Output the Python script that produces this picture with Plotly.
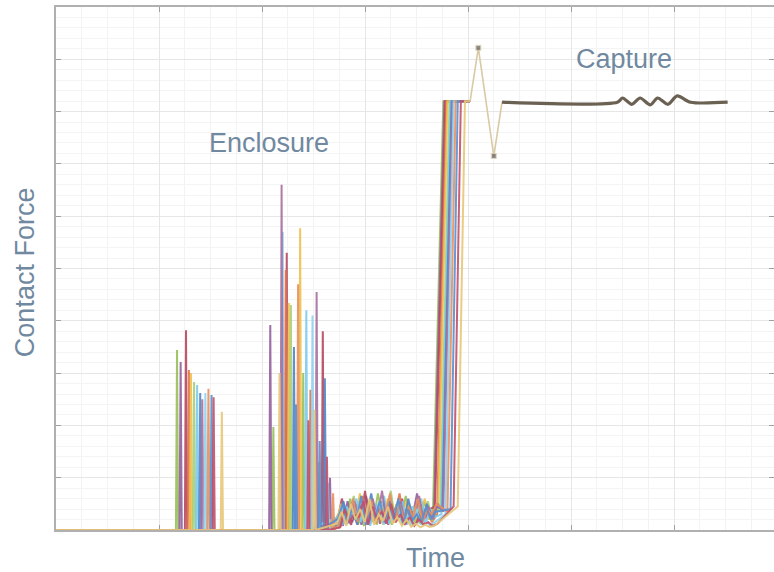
import plotly.graph_objects as go

# ---------------- data ----------------
SERIES_COLORS = ["#97c05a", "#94609e", "#b8475e", "#e0744a", "#f0c050", "#a8cf78", "#7ccbed",
                 "#4f86c6", "#a8709f", "#8fd3f0", "#e89060", "#5a8fd0", "#c0506a", "#e8c878"]

# first contact burst (time, force)
G1_X = [1.175, 1.21, 1.262, 1.29, 1.31, 1.34, 1.37, 1.40, 1.42, 1.45, 1.48, 1.51, 1.53, 1.61]
G1_Y = [3.44, 3.21, 3.82, 3.06, 3.00, 2.83, 2.77, 2.62, 2.50, 2.62, 2.70, 2.58, 2.54, 2.26]

# second contact burst, two impacts per run
G2A_X = [2.11, 2.08, 2.24, 2.23, 2.26, 2.28, 2.20, 2.31, 2.19, 2.49, 2.35, 2.33, 2.45, 2.17]
G2A_Y = [1.97, 3.92, 5.30, 4.97, 4.34, 4.30, 5.70, 3.50, 6.60, 4.10, 4.70, 2.40, 2.10, 3.00]
G2B_X = [2.40, 2.66, 2.59, 2.47, 2.37, 2.55, 2.43, 2.61, 2.53, 2.64, 2.69, 2.56, 2.63, 2.51]
G2B_Y = [3.00, 1.00, 3.80, 2.68, 5.77, 1.30, 4.20, 2.90, 4.55, 0.90, 0.70, 1.70, 1.40, 2.30]

# low-force sliding phase
NOISE_T = [2.72, 2.765, 2.81, 2.855, 2.90, 2.945, 2.99, 3.035, 3.08, 3.125, 3.17,
           3.215, 3.26, 3.305, 3.35, 3.395, 3.44, 3.485, 3.53, 3.575, 3.62, 3.665]
NOISE_SHIFT = [0.0, 0.02, 0.01, 0.03, 0.005, 0.035, 0.015, 0.025, 0.04, 0.012, 0.028, 0.018, 0.038, 0.008]
NOISE = [
    [0.10, 0.45, 0.12, 0.60, 0.20, 0.35, 0.08, 0.55, 0.15, 0.70, 0.25, 0.40, 0.10, 0.50, 0.18, 0.65, 0.22, 0.45, 0.12, 0.55, 0.20, 0.40],
    [0.30, 0.08, 0.55, 0.15, 0.40, 0.10, 0.65, 0.20, 0.45, 0.12, 0.35, 0.60, 0.15, 0.40, 0.10, 0.50, 0.25, 0.70, 0.15, 0.35, 0.20, 0.45],
    [0.15, 0.60, 0.25, 0.10, 0.50, 0.18, 0.75, 0.12, 0.40, 0.20, 0.55, 0.10, 0.45, 0.22, 0.60, 0.15, 0.35, 0.12, 0.50, 0.25, 0.40, 0.30],
    [0.05, 0.35, 0.15, 0.50, 0.10, 0.65, 0.20, 0.30, 0.12, 0.55, 0.18, 0.45, 0.25, 0.70, 0.15, 0.40, 0.10, 0.55, 0.20, 0.35, 0.15, 0.45],
    [0.20, 0.50, 0.10, 0.40, 0.25, 0.70, 0.15, 0.45, 0.20, 0.35, 0.10, 0.60, 0.18, 0.40, 0.25, 0.55, 0.12, 0.45, 0.30, 0.60, 0.20, 0.35],
    [0.08, 0.40, 0.20, 0.65, 0.12, 0.30, 0.22, 0.55, 0.10, 0.45, 0.28, 0.75, 0.15, 0.35, 0.20, 0.50, 0.10, 0.40, 0.25, 0.55, 0.18, 0.40],
    [0.25, 0.10, 0.45, 0.20, 0.60, 0.15, 0.40, 0.08, 0.50, 0.25, 0.65, 0.12, 0.35, 0.20, 0.55, 0.10, 0.45, 0.30, 0.60, 0.15, 0.40, 0.25],
    [0.12, 0.55, 0.18, 0.35, 0.10, 0.50, 0.25, 0.70, 0.15, 0.40, 0.12, 0.55, 0.28, 0.45, 0.10, 0.60, 0.20, 0.35, 0.15, 0.50, 0.25, 0.45],
    [0.06, 0.30, 0.15, 0.55, 0.25, 0.45, 0.10, 0.60, 0.20, 0.75, 0.15, 0.40, 0.22, 0.55, 0.12, 0.35, 0.25, 0.65, 0.10, 0.45, 0.20, 0.50],
    [0.18, 0.45, 0.10, 0.35, 0.22, 0.60, 0.12, 0.40, 0.25, 0.55, 0.10, 0.35, 0.18, 0.50, 0.12, 0.30, 0.08, 0.40, 0.10, 0.20, 0.08, 0.15],
    [0.10, 0.35, 0.20, 0.60, 0.15, 0.45, 0.25, 0.55, 0.12, 0.40, 0.30, 0.70, 0.15, 0.50, 0.20, 0.45, 0.25, 0.60, 0.15, 0.40, 0.30, 0.50],
    [0.22, 0.50, 0.12, 0.40, 0.20, 0.65, 0.10, 0.35, 0.25, 0.55, 0.15, 0.45, 0.20, 0.60, 0.12, 0.40, 0.18, 0.30, 0.15, 0.45, 0.20, 0.35],
    [0.05, 0.40, 0.15, 0.30, 0.25, 0.55, 0.10, 0.45, 0.20, 0.35, 0.12, 0.50, 0.15, 0.30, 0.10, 0.25, 0.08, 0.20, 0.10, 0.15, 0.08, 0.12],
    [0.12, 0.35, 0.08, 0.50, 0.20, 0.40, 0.15, 0.60, 0.10, 0.30, 0.18, 0.45, 0.12, 0.25, 0.08, 0.20, 0.06, 0.12, 0.05, 0.10, 0.06, 0.08],
]

# closing / capture rise
RISE_BOT_X = [3.66, 3.67, 3.68, 3.70, 3.71, 3.73, 3.74, 3.75, 3.76, 3.78, 3.80, 3.83, 3.86, 3.90]
RISE_BOT_Y = [0.40, 0.35, 0.45, 0.30, 0.40, 0.35, 0.30, 0.40, 0.35, 0.30, 0.35, 0.40, 0.45, 0.45]
RISE_TOP_X = [3.76, 3.77, 3.78, 3.79, 3.80, 3.82, 3.83, 3.84, 3.85, 3.86, 3.88, 3.90, 3.93, 3.97]
HOLD_LEVEL = 8.20
HOLD_END = 4.02

# capture response (shared)
OVER_X = [4.02, 4.10, 4.25, 4.33]
OVER_Y = [8.20, 9.22, 7.15, 8.18]
STEADY_X = [4.33, 5.45, 5.50, 5.59, 5.67, 5.77, 5.84, 5.94, 6.03, 6.16, 6.52]
STEADY_Y = [8.18, 8.18, 8.26, 8.14, 8.26, 8.13, 8.26, 8.14, 8.30, 8.18, 8.18]

LABEL_COLOR = "#7089a0"
FONT = "Liberation Sans, Arial, sans-serif"

fig = go.Figure()

EPS = 0.011
for i in range(len(G1_X)):
    xs, ys = [0.0], [0.0]
    for sx, sy in [(G1_X[i], G1_Y[i]), (G2A_X[i], G2A_Y[i]), (G2B_X[i], G2B_Y[i])]:
        xs += [sx - EPS, sx, sx + EPS]
        ys += [0.0, sy, 0.0]
    for t, v in zip(NOISE_T, NOISE[i]):
        tt = t + NOISE_SHIFT[i]
        if tt < RISE_BOT_X[i] - 0.01:
            xs.append(tt)
            ys.append(v)
    xs += [RISE_BOT_X[i], RISE_TOP_X[i], HOLD_END]
    ys += [RISE_BOT_Y[i], HOLD_LEVEL, HOLD_LEVEL]
    fig.add_trace(go.Scatter(x=xs, y=ys, mode="lines",
                             line=dict(color=SERIES_COLORS[i], width=2.0),
                             opacity=0.9, showlegend=False, hoverinfo="skip"))

fig.add_trace(go.Scatter(x=OVER_X, y=OVER_Y, mode="lines+markers",
                         line=dict(color="#d9c9a4", width=1.6),
                         marker=dict(color="#5e5a55", size=[0, 5, 5, 0], symbol="square"),
                         showlegend=False, hoverinfo="skip"))
fig.add_trace(go.Scatter(x=STEADY_X, y=STEADY_Y, mode="lines",
                         line=dict(color="#6b6152", width=3.2, shape="spline", smoothing=0.8),
                         showlegend=False, hoverinfo="skip"))

tick_style = dict(showticklabels=False, ticks="inside", ticklen=5, tickcolor="#a0a0a0", zeroline=False)
fig.update_xaxes(range=[0, 6.97], tick0=0, dtick=1, showline=True, linecolor="#b0b0b0",
                 linewidth=1.5, mirror="ticks", showgrid=True, gridcolor="#e6e6e6",
                 layer="below traces",
                 minor=dict(dtick=0.25, showgrid=True, gridcolor="#f3f3f3"), **tick_style)
fig.update_yaxes(range=[0, 10], tick0=0, dtick=1, showline=True, linecolor="#b0b0b0",
                 linewidth=1.5, mirror=False, showgrid=True, gridcolor="#e6e6e6",
                 layer="below traces",
                 minor=dict(dtick=0.2, showgrid=True, gridcolor="#f4f4f4"), **tick_style)
fig.update_layout(yaxis2=dict(overlaying="y", side="right", range=[0, 10], tick0=0, dtick=1,
                              showline=False, showgrid=False, **tick_style))
fig.add_trace(go.Scatter(x=[None], y=[None], yaxis="y2", showlegend=False, hoverinfo="skip"))

fig.add_annotation(x=2.07, y=7.40, xref="x", yref="y", text="Enclosure", showarrow=False,
                   xanchor="center", yanchor="middle",
                   font=dict(family=FONT, size=27, color=LABEL_COLOR))
fig.add_annotation(x=5.51, y=9.00, xref="x", yref="y", text="Capture", showarrow=False,
                   xanchor="center", yanchor="middle",
                   font=dict(family=FONT, size=27, color=LABEL_COLOR))
fig.add_annotation(x=0.529, y=-0.0535, xref="paper", yref="paper", text="Time", showarrow=False,
                   xanchor="center", yanchor="middle",
                   font=dict(family=FONT, size=27, color=LABEL_COLOR))
fig.add_annotation(x=-0.0432, y=0.493, xref="paper", yref="paper", text="Contact Force",
                   showarrow=False, textangle=-90, xanchor="center", yanchor="middle",
                   font=dict(family=FONT, size=27, color=LABEL_COLOR))

fig.update_layout(
    width=774, height=572,
    margin=dict(l=56, r=0, t=7, b=42),
    paper_bgcolor="white", plot_bgcolor="white",
    showlegend=False,
)

fig.write_html("out.html")
